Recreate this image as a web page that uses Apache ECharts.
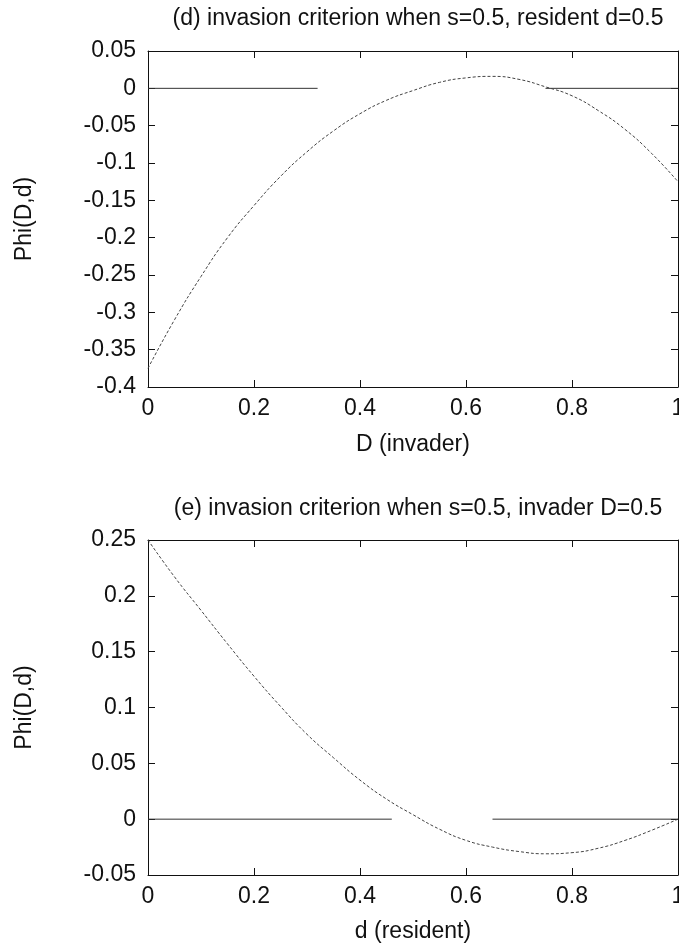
<!DOCTYPE html>
<html>
<head>
<meta charset="utf-8">
<script src="https://cdn.jsdelivr.net/npm/echarts@6/dist/echarts.min.js"></script>
<style>
html,body{margin:0;padding:0;background:#fff;}
#c{width:679px;height:948px;}
</style>
</head>
<body>
<div id="c"></div>
<script>
// Top panel (d): Phi(D, d=0.5) vs D (invader)
const topX = [0,0.05,0.1,0.15,0.2,0.25,0.3,0.35,0.4,0.45,0.5,0.55,0.6,0.65,0.7,0.75,0.8,0.85,0.9,0.95,1.0];
const topY = [-0.375,-0.31,-0.252,-0.2,-0.157,-0.118,-0.085,-0.057,-0.034,-0.016,-0.003,0.008,0.014,0.016,0.012,0.002,-0.01,-0.03,-0.055,-0.087,-0.125];
// Bottom panel (e): Phi(D=0.5, d) vs d (resident)
const botX = [0,0.05,0.1,0.15,0.2,0.25,0.3,0.35,0.4,0.45,0.5,0.55,0.6,0.65,0.7,0.75,0.8,0.85,0.9,0.95,1.0];
const botY = [0.25,0.217,0.187,0.157,0.128,0.101,0.076,0.055,0.035,0.018,0.004,-0.009,-0.019,-0.025,-0.029,-0.031,-0.03,-0.026,-0.019,-0.01,0.0];
// zero reference lines (as visible in the reference, with breaks)
const zeroTopX = [0,0.32,0.5,0.75,1];
const zeroTopY = [0,0,null,0,0];
const zeroBotX = [0,0.46,0.55,0.65,1];
const zeroBotY = [0,0,null,0,0];
// axis ranges / ticks
const xTicks = {min:0, max:1, interval:0.2};
const topRange = {min:-0.4, max:0.05, interval:0.05};
const botRange = {min:-0.05, max:0.25, interval:0.05};
const titles = ['(d) invasion criterion when s=0.5, resident d=0.5','(e) invasion criterion when s=0.5, invader D=0.5'];
const xNames = ['D (invader)','d (resident)'];
const yName = 'Phi(D,d)';

const pairs = (xs, ys) => xs.map((x,i)=>[x, ys[i] === null ? '-' : ys[i]]);
const FONT = 'Liberation Sans, Arial, Helvetica, sans-serif';
const FS = 23;
const ink = '#111';

const grids = [
  {left:148, width:530, top:51, height:336, containLabel:false, outerBoundsMode:'none'},
  {left:148, width:530, top:540, height:335, containLabel:false, outerBoundsMode:'none'}
];
const xNameGap = [46, 45];

function xAxes(gi){
  return [
    {type:'value', gridIndex:gi, position:'bottom', min:xTicks.min, max:xTicks.max, interval:xTicks.interval,
     name:xNames[gi], nameLocation:'middle', nameGap:xNameGap[gi],
     nameTextStyle:{fontFamily:FONT, fontSize:FS, color:ink},
     axisLine:{show:true, onZero:false, lineStyle:{color:ink, width:1}},
     axisTick:{show:true, inside:true, length:7, lineStyle:{color:ink}},
     axisLabel:{fontFamily:FONT, fontSize:FS, color:ink, margin:10},
     splitLine:{show:false}},
    {type:'value', gridIndex:gi, position:'top', min:xTicks.min, max:xTicks.max, interval:xTicks.interval,
     axisLine:{show:true, onZero:false, lineStyle:{color:ink, width:1}},
     axisTick:{show:true, inside:true, length:7, lineStyle:{color:ink}},
     axisLabel:{show:false}, splitLine:{show:false}}
  ];
}
function yAxes(gi, r){
  return [
    {type:'value', gridIndex:gi, position:'left', min:r.min, max:r.max, interval:r.interval,
     name:yName, nameLocation:'middle', nameGap:112, nameRotate:90,
     nameTextStyle:{fontFamily:FONT, fontSize:FS, color:ink},
     axisLine:{show:true, onZero:false, lineStyle:{color:ink, width:1}},
     axisTick:{show:true, inside:true, length:7, lineStyle:{color:ink}},
     axisLabel:{fontFamily:FONT, fontSize:FS, color:ink, margin:12,
       formatter:v=>String(parseFloat(v.toFixed(4)))},
     splitLine:{show:false}},
    {type:'value', gridIndex:gi, position:'right', min:r.min, max:r.max, interval:r.interval,
     axisLine:{show:true, onZero:false, lineStyle:{color:ink, width:1}},
     axisTick:{show:true, inside:true, length:7, lineStyle:{color:ink}},
     axisLabel:{show:false}, splitLine:{show:false}}
  ];
}

const curveStyle = {color:'#444', width:1, type:[3,2]};
const zeroStyle = {color:'#333', width:1, type:'solid'};

const option = {
  animation:false,
  backgroundColor:'#fff',
  title:[
    {text:titles[0], left:413, textAlign:'center', top:2, textStyle:{fontFamily:FONT, fontSize:FS, fontWeight:'normal', color:ink}},
    {text:titles[1], left:413, textAlign:'center', top:492, textStyle:{fontFamily:FONT, fontSize:FS, fontWeight:'normal', color:ink}}
  ],
  grid:grids,
  xAxis:[...xAxes(0), ...xAxes(1)],
  yAxis:[...yAxes(0, topRange), ...yAxes(1, botRange)],
  series:[
    {type:'line', xAxisIndex:0, yAxisIndex:0, data:pairs(zeroTopX, zeroTopY), symbol:'none', connectNulls:false, lineStyle:zeroStyle, silent:true},
    {type:'line', xAxisIndex:0, yAxisIndex:0, data:pairs(topX, topY), symbol:'none', smooth:0.5, lineStyle:curveStyle},
    {type:'line', xAxisIndex:2, yAxisIndex:2, data:pairs(zeroBotX, zeroBotY), symbol:'none', connectNulls:false, lineStyle:zeroStyle, silent:true},
    {type:'line', xAxisIndex:2, yAxisIndex:2, data:pairs(botX, botY), symbol:'none', smooth:0.5, lineStyle:curveStyle}
  ]
};
echarts.init(document.getElementById('c'), null, {renderer:'canvas'}).setOption(option);
</script>
</body>
</html>
